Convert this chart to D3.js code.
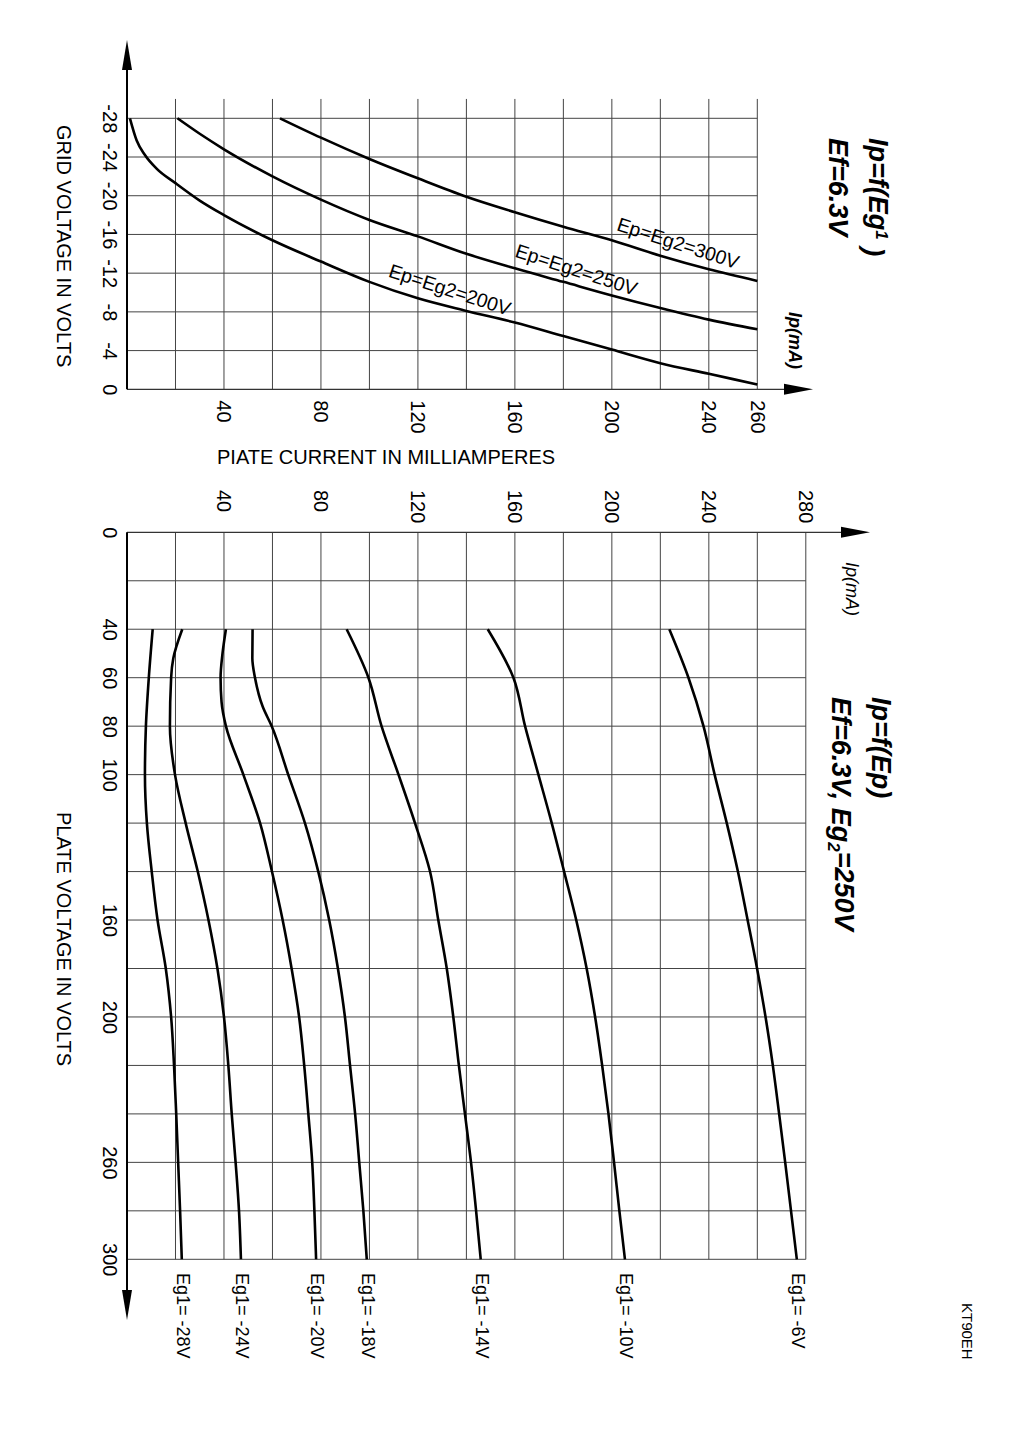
<!DOCTYPE html>
<html><head><meta charset="utf-8">
<script src="https://cdn.jsdelivr.net/npm/d3@7"></script>
<style>
html,body{margin:0;padding:0;background:#fff;}
svg{display:block;font-family:"Liberation Sans",Arial,Helvetica,sans-serif;}
</style></head><body>
<svg id="chart" width="1018" height="1440"></svg>
<script>
// ---------- data ----------
// Top chart: Ip = f(Eg1)
const gridVoltageTicks = [0, -4, -8, -12, -16, -20, -24, -28];
const topCurrentTicks = [40, 80, 120, 160, 200, 240, 260];
const transferLabels = ["Ep=Eg2=200V", "Ep=Eg2=250V", "Ep=Eg2=300V"];
const ip200 = [1.2, 4, 7.4, 12.2, 20, 30, 40, 60, 80, 100, 120, 140, 160, 180, 200, 220, 240, 260];
const eg200 = [-28, -25.7, -24.2, -22.8, -21.3, -19.5, -18.0, -15.4, -13.2, -11.1, -9.4, -8.1, -6.9, -5.5, -4.1, -2.7, -1.6, -0.5];
const ip250 = [20.8, 30, 40, 60, 80, 100, 120, 140, 160, 180, 200, 220, 240, 260];
const eg250 = [-28, -26.4, -24.8, -22.0, -19.6, -17.5, -15.8, -14.0, -12.5, -11.1, -9.7, -8.4, -7.2, -6.2];
const ip300 = [63.1, 80, 100, 120, 140, 160, 180, 200, 220, 240, 260];
const eg300 = [-28, -26.0, -23.8, -21.8, -19.9, -18.3, -16.8, -15.4, -13.8, -12.4, -11.2];

// Bottom chart: Ip = f(Ep)
const plateVoltageTicks = [0, 40, 60, 80, 100, 160, 200, 260, 300];
const bottomCurrentTicks = [40, 80, 120, 160, 200, 240, 280];
const plateLabels = ["Eg1= -28V", "Eg1= -24V", "Eg1= -20V", "Eg1= -18V", "Eg1= -14V", "Eg1= -10V", "Eg1= -6V"];
const epM28 = [40, 60, 80, 100, 120, 140, 160, 180, 200, 220, 240, 260, 280, 300];
const ipM28 = [10.6, 9.0, 7.8, 7.4, 8.2, 10.2, 12.6, 16.0, 18.2, 19.4, 20.3, 21.1, 21.9, 22.6];
const epM24 = [40, 52, 60, 80, 100, 120, 140, 160, 180, 200, 220, 240, 260, 280, 300];
const ipM24 = [22.8, 19.1, 18.2, 17.7, 19.8, 24.2, 29.2, 33.6, 37.3, 40.0, 41.8, 43.2, 44.8, 46.2, 47.0];
const epM20 = [40, 50, 60, 70, 80, 100, 120, 140, 160, 180, 200, 220, 240, 260, 280, 300];
const ipM20 = [40.8, 39.4, 38.6, 39.0, 40.8, 48.0, 54.9, 59.8, 64.2, 67.9, 71.0, 73.1, 74.8, 76.4, 77.3, 78.0];
const epM18 = [40, 52, 60, 72, 80, 100, 120, 140, 160, 180, 200, 220, 240, 260, 280, 300];
const ipM18 = [51.8, 51.7, 52.8, 56.0, 59.7, 66.5, 73.4, 78.9, 83.4, 87.0, 89.9, 92.0, 94.1, 95.8, 97.5, 98.9];
const epM14 = [40, 60, 80, 100, 120, 140, 160, 180, 200, 220, 240, 260, 280, 300];
const ipM14 = [90.6, 99.6, 105.0, 112.0, 118.8, 125.0, 128.4, 131.9, 134.6, 136.9, 139.4, 141.9, 144.0, 145.9];
const epM10 = [40, 60, 80, 100, 120, 140, 160, 180, 200, 220, 240, 260, 280, 300];
const ipM10 = [148.8, 159.4, 164.2, 169.7, 175.2, 180.3, 185.3, 189.6, 193.1, 196.0, 198.6, 200.9, 203.1, 205.4];
const epM6 = [40, 60, 80, 100, 120, 140, 160, 180, 200, 220, 240, 260, 280, 300];
const ipM6 = [223.7, 231.6, 237.8, 242.4, 247.4, 252.0, 256.0, 259.9, 263.4, 266.4, 269.0, 271.5, 273.9, 276.3];

// ---------- drawing ----------
const svg = d3.select("#chart");
const FONT = '"Liberation Sans",Arial,Helvetica,sans-serif';
const GRID = "#444";

const xTop = d3.scaleLinear().domain([0, 260]).range([127, 757.3]);
const yTop = d3.scaleLinear().domain([0, -28]).range([389.3, 118.3]);
const xBot = d3.scaleLinear().domain([0, 280]).range([127, 805.8]);
const yBot = d3.scaleLinear().domain([0, 300]).range([532.3, 1259.3]);

// ---- top grid ----
const gTop = svg.append("g");
gTop.selectAll("line.v").data(d3.range(20, 261, 20)).join("line").attr("class", "v")
  .attr("x1", d => xTop(d)).attr("x2", d => xTop(d))
  .attr("y1", yTop(-30)).attr("y2", yTop(0))
  .attr("stroke", GRID).attr("stroke-width", 1);
gTop.selectAll("line.h").data(d3.range(-4, -29, -4)).join("line").attr("class", "h")
  .attr("x1", xTop(0)).attr("x2", xTop(260))
  .attr("y1", d => yTop(d)).attr("y2", d => yTop(d))
  .attr("stroke", GRID).attr("stroke-width", 1);
// axes lines + arrows
gTop.append("line").attr("x1", xTop(0)).attr("x2", 786).attr("y1", yTop(0)).attr("y2", yTop(0))
  .attr("stroke", "#333").attr("stroke-width", 1.2);
gTop.append("line").attr("x1", xTop(0)).attr("x2", xTop(0)).attr("y1", yTop(0)).attr("y2", 70)
  .attr("stroke", "#000").attr("stroke-width", 2);
gTop.append("path").attr("d", `M${xTop(0)-5},70 L${xTop(0)+5},70 L${xTop(0)},40 Z`).attr("fill", "#000");
gTop.append("path").attr("d", `M784,${yTop(0)-5.5} L784,${yTop(0)+5.5} L813,${yTop(0)} Z`).attr("fill", "#000");

// top axes labels
const axTopY = svg.append("g").attr("transform", `translate(${xTop(0)},0)`)
  .call(d3.axisLeft(yTop).tickValues(gridVoltageTicks).tickSize(0).tickFormat(d => String(d)));
axTopY.select(".domain").remove();
axTopY.attr("font-size", 20).attr("font-family", FONT);
axTopY.selectAll("text").attr("x", 0).attr("y", 0).attr("dy", "0").attr("text-anchor", "middle")
  .attr("fill", "#000").attr("transform", "translate(-24,0) rotate(90)");

const axTopX = svg.append("g").attr("transform", `translate(0,${yTop(0)})`)
  .call(d3.axisBottom(xTop).tickValues(topCurrentTicks).tickSize(0).tickFormat(d => String(d)));
axTopX.select(".domain").remove();
axTopX.attr("font-size", 20).attr("font-family", FONT);
axTopX.selectAll("text").attr("x", 0).attr("y", 0).attr("dy", "0.35em").attr("text-anchor", "start")
  .attr("fill", "#000").attr("transform", "translate(0,11) rotate(90)");

// top curves
const lineTop = d3.line().x(d => xTop(d[0])).y(d => yTop(d[1])).curve(d3.curveMonotoneX);
const topSeries = [d3.zip(ip200, eg200), d3.zip(ip250, eg250), d3.zip(ip300, eg300)];
svg.append("g").selectAll("path").data(topSeries).join("path")
  .attr("d", lineTop).attr("fill", "none").attr("stroke", "#000").attr("stroke-width", 2.6);

// curve labels
const transferLabelPos = [[387.4, 276.6], [514, 256.6], [615.7, 230]];
svg.append("g").selectAll("text").data(transferLabels).join("text")
  .attr("transform", (d, i) => `translate(${transferLabelPos[i][0]},${transferLabelPos[i][1]}) rotate(18)`)
  .attr("font-size", 19.5).attr("font-family", FONT).attr("fill", "#000").text(d => d);

// top titles
function rotText(x, y, size, weight, style) {
  return svg.append("text").attr("transform", `translate(${x},${y}) rotate(90)`)
    .attr("font-size", size).attr("font-family", FONT).attr("font-weight", weight)
    .attr("font-style", style).attr("fill", "#000");
}
const t1 = rotText(869, 138, 27, "bold", "italic");
t1.append("tspan").text("Ip=f(Eg");
t1.append("tspan").attr("font-size", 17).attr("dy", "-0.4em").text("1");
t1.append("tspan").attr("dy", "0.4em").text(" )");
rotText(829, 138, 27, "bold", "italic").text("Ef=6.3V");
rotText(789, 312, 18, "bold", "italic").text("Ip(mA)");

// axis titles
rotText(57, 125, 20, "normal", "normal").text("GRID VOLTAGE IN VOLTS");
svg.append("text").attr("x", 217).attr("y", 464).attr("font-size", 20).attr("font-family", FONT)
  .attr("fill", "#000").text("PIATE CURRENT IN MILLIAMPERES");

// ---- bottom grid ----
const gBot = svg.append("g");
gBot.selectAll("line.v").data(d3.range(20, 281, 20)).join("line").attr("class", "v")
  .attr("x1", d => xBot(d)).attr("x2", d => xBot(d))
  .attr("y1", yBot(0)).attr("y2", yBot(300))
  .attr("stroke", GRID).attr("stroke-width", 1);
gBot.selectAll("line.h").data(d3.range(20, 301, 20)).join("line").attr("class", "h")
  .attr("x1", xBot(0)).attr("x2", xBot(280))
  .attr("y1", d => yBot(d)).attr("y2", d => yBot(d))
  .attr("stroke", GRID).attr("stroke-width", 1);
gBot.append("line").attr("x1", xBot(0)).attr("x2", 843).attr("y1", yBot(0)).attr("y2", yBot(0))
  .attr("stroke", "#333").attr("stroke-width", 1.2);
gBot.append("line").attr("x1", xBot(0)).attr("x2", xBot(0)).attr("y1", yBot(0)).attr("y2", 1290)
  .attr("stroke", "#000").attr("stroke-width", 2);
gBot.append("path").attr("d", `M${xBot(0)-5},1290 L${xBot(0)+5},1290 L${xBot(0)},1320 Z`).attr("fill", "#000");
gBot.append("path").attr("d", `M841,${yBot(0)-5.5} L841,${yBot(0)+5.5} L870,${yBot(0)} Z`).attr("fill", "#000");

const axBotY = svg.append("g").attr("transform", `translate(${xBot(0)},0)`)
  .call(d3.axisLeft(yBot).tickValues(plateVoltageTicks).tickSize(0).tickFormat(d => String(d)));
axBotY.select(".domain").remove();
axBotY.attr("font-size", 20).attr("font-family", FONT);
axBotY.selectAll("text").attr("x", 0).attr("y", 0).attr("dy", "0").attr("text-anchor", "middle")
  .attr("fill", "#000").attr("transform", "translate(-24,0) rotate(90)");

const axBotX = svg.append("g").attr("transform", "translate(0,490)")
  .call(d3.axisBottom(xBot).tickValues(bottomCurrentTicks).tickSize(0).tickFormat(d => String(d)));
axBotX.select(".domain").remove();
axBotX.attr("font-size", 20).attr("font-family", FONT);
axBotX.selectAll("text").attr("x", 0).attr("y", 0).attr("dy", "0.35em").attr("text-anchor", "start")
  .attr("fill", "#000").attr("transform", "rotate(90)");

// bottom curves
const lineBot = d3.line().x(d => xBot(d[1])).y(d => yBot(d[0])).curve(d3.curveMonotoneY);
const botSeries = [d3.zip(epM28, ipM28), d3.zip(epM24, ipM24), d3.zip(epM20, ipM20), d3.zip(epM18, ipM18),
  d3.zip(epM14, ipM14), d3.zip(epM10, ipM10), d3.zip(epM6, ipM6)];
svg.append("g").selectAll("path").data(botSeries).join("path")
  .attr("d", lineBot).attr("fill", "none").attr("stroke", "#000").attr("stroke-width", 2.6);

svg.append("g").selectAll("text").data(plateLabels).join("text")
  .attr("transform", (d, i) => {
    const s = botSeries[i]; const last = s[s.length - 1];
    return `translate(${xBot(last[1]) + 1},1273) rotate(90)`;
  })
  .attr("dy", "0.32em").attr("font-size", 18).attr("font-family", FONT).attr("fill", "#000").text(d => d);

// bottom titles
rotText(846, 562, 18, "normal", "italic").text("Ip(mA)");
rotText(872, 697, 27, "bold", "italic").text("Ip=f(Ep)");
const t2 = rotText(832, 697, 27, "bold", "italic");
t2.append("tspan").text("Ef=6.3V, Eg");
t2.append("tspan").attr("font-size", 17).attr("dy", "0.25em").text("2");
t2.append("tspan").attr("dy", "-0.25em").text("=250V");
rotText(57, 812, 20, "normal", "normal").text("PLATE VOLTAGE IN VOLTS");
rotText(962, 1303, 15, "normal", "normal").text("KT90EH");
</script>
</body></html>
